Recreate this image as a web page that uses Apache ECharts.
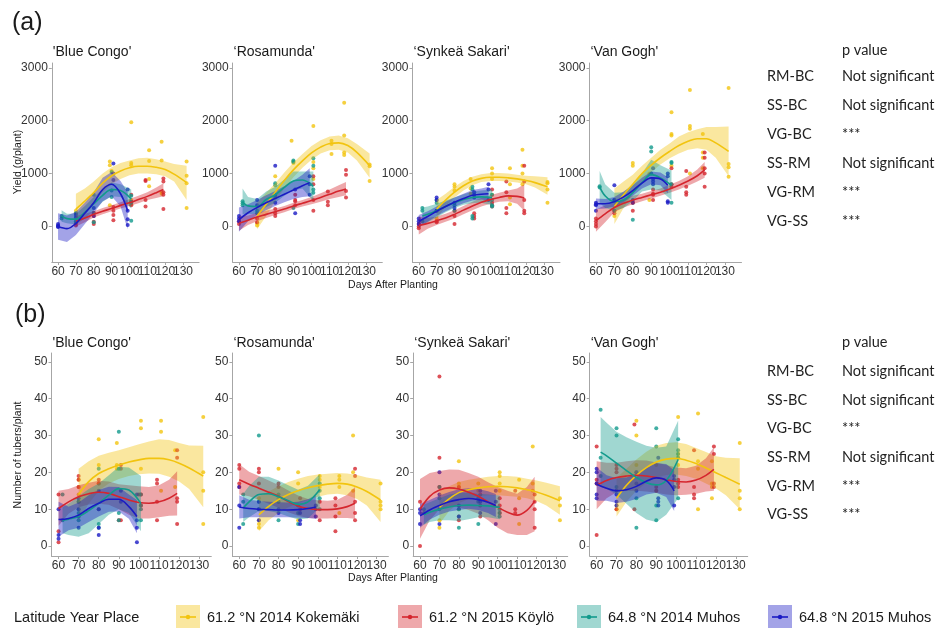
<!DOCTYPE html>
<html>
<head>
<meta charset="utf-8">
<script src="https://cdn.jsdelivr.net/npm/echarts@6/dist/echarts.min.js"></script>
<style>
  html, body { margin: 0; padding: 0; background: #ffffff; }
  #chart { width: 942px; height: 628px; }
</style>
</head>
<body>
<div id="chart"></div>
<script>
// ---- categories, ticks and labels ----
const groupNames = ['61.2 °N 2014 Kokemäki', '61.2 °N 2015 Köylö', '64.8 °N 2014 Muhos', '64.8 °N 2015 Muhos'];
const groupColors = ['#F2C40F', '#D5262E', '#129A8C', '#1A1AC4'];
const cultivars = ["'Blue Congo'", "‘Rosamunda'", "‘Synkeä Sakari'", "‘Van Gogh'"];
const dayTicks = [60, 70, 80, 90, 100, 110, 120, 130];
const yieldTicks = [0, 1000, 2000, 3000];
const tuberTicks = [0, 10, 20, 30, 40, 50];
const contrasts = ['RM-BC', 'SS-BC', 'VG-BC', 'SS-RM', 'VG-RM', 'VG-SS'];
const yieldSignif = ['Not significant', 'Not significant', '***', 'Not significant', '***', '***'];
const tuberSignif = ['Not significant', 'Not significant', '***', 'Not significant', '***', '***'];

// ---- yield (g/plant): observations [day, value], one list per site-year ----
const yieldPtsBC = [
  [[70,300],[70,240],[89,1230],[89,1160],[90,1050],[89,400],[101,1970],[101,1200],[101,1160],[101,500],[101,420],[111,1440],[111,1240],[111,900],[111,760],[118,1600],[118,1250],[118,650],[118,620],[132,1230],[132,960],[132,820],[132,350]],
  [[70,20],[70,60],[80,50],[80,90],[80,260],[80,200],[91,120],[91,220],[91,300],[91,370],[101,400],[101,470],[101,600],[109,880],[109,860],[109,500],[109,380],[119,910],[119,850],[119,650],[119,600],[119,330]],
  [[62,200],[62,150],[70,250],[70,100],[80,600],[80,250],[80,80],[90,1030],[90,680],[90,560],[101,580],[101,470],[101,110],[101,450]],
  [[60,50],[60,0],[60,20],[60,-10],[70,220],[70,170],[80,200],[80,350],[91,1190],[91,1000],[91,880],[99,700],[99,300],[99,140],[99,30]]
];
const yieldPtsRM = [
  [[70,60],[70,20],[80,950],[89,1620],[90,1230],[90,1200],[101,1900],[101,1220],[101,1100],[101,900],[111,1620],[111,1560],[111,1370],[118,2340],[118,1720],[118,1400],[118,1350],[132,1170],[132,1140],[132,860]],
  [[60,100],[60,50],[70,150],[70,80],[80,250],[80,200],[80,330],[91,400],[91,500],[91,480],[91,600],[101,950],[101,800],[101,300],[101,500],[109,660],[109,470],[109,400],[119,1070],[119,980],[119,670],[119,550]],
  [[62,480],[62,440],[62,400],[70,300],[70,250],[80,820],[80,780],[80,560],[90,1250],[90,1220],[90,350],[101,1290],[101,1150],[101,640],[101,700]],
  [[60,150],[60,200],[60,100],[70,500],[70,400],[80,1150],[80,600],[80,450],[91,250],[91,700],[99,950],[99,800],[99,600]]
];
const yieldPtsSS = [
  [[70,150],[80,800],[80,750],[80,680],[89,900],[89,720],[89,620],[101,1100],[101,1000],[101,900],[101,600],[111,1100],[111,800],[111,550],[111,420],[118,1450],[118,1150],[118,1000],[118,800],[132,840],[132,820],[132,700],[132,450]],
  [[60,0],[60,-30],[60,50],[70,100],[70,80],[80,50],[80,200],[80,300],[91,250],[91,200],[91,150],[101,450],[101,400],[101,380],[101,700],[109,850],[109,650],[109,350],[109,250],[119,1150],[119,850],[119,500],[119,300],[119,250]],
  [[62,350],[62,300],[62,100],[70,500],[70,450],[70,300],[80,400],[80,300],[90,750],[90,700],[90,200],[90,150],[101,600],[101,500],[101,400],[101,380]],
  [[60,150],[60,100],[60,50],[70,550],[70,500],[70,300],[80,450],[80,350],[91,650],[91,600],[91,550],[99,800],[99,700],[99,500]]
];
const yieldPtsVG = [
  [[70,200],[70,300],[80,1200],[80,1150],[80,450],[89,500],[89,1000],[101,2160],[101,1750],[101,1720],[101,1150],[111,2580],[111,1900],[111,1850],[111,1000],[118,1750],[118,1400],[118,1300],[118,1100],[132,2620],[132,1180],[132,1120],[132,940]],
  [[60,150],[60,100],[60,50],[60,0],[70,250],[70,300],[80,300],[80,450],[91,600],[91,500],[91,620],[91,700],[101,1100],[101,800],[101,750],[109,1050],[109,750],[109,650],[109,600],[119,1400],[119,1300],[119,1100],[119,1000],[119,750]],
  [[62,760],[62,740],[70,500],[70,300],[80,130],[90,1500],[90,1420],[90,1000],[101,1220],[101,1200],[101,450],[101,800]],
  [[60,450],[60,420],[60,400],[60,300],[70,780],[70,500],[80,500],[80,450],[91,1100],[91,900],[91,850],[91,800],[99,1000],[99,950],[99,480],[99,450]]
];

// ---- yield smoothers: [day, lower CI, fit, upper CI] ----
const yieldFitBC = [
  [[70,50,330,620],[75,250,480,720],[80,450,640,850],[85,650,820,1000],[90,800,960,1120],[95,900,1050,1200],[100,970,1110,1250],[105,1000,1140,1290],[110,1000,1140,1300],[115,990,1120,1270],[120,950,1080,1230],[125,850,990,1180],[132,500,830,1150]],
  [[70,0,100,200],[75,80,160,240],[80,170,230,290],[85,230,290,350],[90,290,340,400],[95,340,400,460],[100,390,450,520],[105,440,510,580],[110,500,570,650],[115,540,640,740],[119,570,700,820]],
  [[62,90,200,310],[65,60,150,240],[70,40,140,240],[75,150,270,390],[80,300,430,560],[85,470,590,710],[90,570,700,830],[95,560,680,800],[101,340,520,700]],
  [[60,-250,0,250],[65,-290,-40,210],[70,-160,60,280],[75,50,250,450],[80,250,450,650],[85,480,700,920],[90,570,800,1030],[95,380,620,860],[99,-50,300,650]]
];
const yieldFitRM = [
  [[70,-50,200,450],[75,200,420,640],[80,480,650,820],[85,720,870,1020],[90,930,1070,1210],[95,1110,1240,1370],[100,1260,1390,1520],[105,1380,1500,1630],[110,1440,1570,1700],[115,1450,1580,1720],[120,1400,1530,1670],[125,1250,1400,1560],[132,920,1150,1380]],
  [[60,-80,60,200],[65,30,120,210],[70,100,180,260],[75,160,230,300],[80,220,280,340],[85,270,330,390],[90,330,390,450],[95,380,440,500],[100,420,490,560],[105,470,550,630],[110,520,610,700],[115,560,670,780],[119,590,710,840]],
  [[62,230,470,720],[65,230,390,560],[70,240,380,520],[75,370,510,660],[80,450,600,750],[85,580,740,890],[90,680,860,1040],[95,720,880,1040],[101,480,760,1040]],
  [[60,-100,130,360],[65,100,260,420],[70,220,360,500],[75,310,450,590],[80,390,530,670],[85,460,610,760],[90,520,690,860],[95,560,770,980],[99,570,830,1100]]
];
const yieldFitSS = [
  [[70,150,330,500],[75,380,500,620],[80,550,650,750],[85,680,770,860],[90,780,860,940],[95,840,910,990],[100,860,930,1010],[105,860,930,1010],[110,850,920,1000],[115,830,900,980],[120,800,870,960],[125,740,830,950],[132,600,750,930]],
  [[60,-150,20,190],[65,-40,60,160],[70,30,110,190],[75,90,160,240],[80,150,230,310],[85,230,310,390],[90,310,390,470],[95,380,460,540],[100,430,510,590],[105,470,550,640],[110,480,580,680],[115,430,570,720],[119,300,540,800]],
  [[62,40,200,360],[65,80,230,380],[70,170,300,430],[75,270,380,490],[80,350,450,550],[85,410,510,610],[90,440,550,660],[95,450,560,680],[101,400,550,700]],
  [[60,-20,100,220],[65,90,190,290],[70,200,290,380],[75,290,380,470],[80,370,460,550],[85,440,530,620],[90,490,590,690],[95,510,610,720],[99,490,620,750]]
];
const yieldFitVG = [
  [[70,50,380,720],[75,350,600,850],[80,620,800,980],[85,850,1000,1150],[90,1030,1160,1300],[95,1170,1300,1450],[100,1290,1420,1570],[105,1380,1530,1700],[110,1450,1610,1780],[115,1480,1660,1840],[120,1450,1660,1880],[125,1300,1580,1880],[132,950,1420,1890]],
  [[60,-100,110,320],[65,80,240,400],[70,270,360,450],[75,360,440,520],[80,420,500,580],[85,480,550,620],[90,530,600,670],[95,580,650,720],[100,640,710,790],[105,700,780,860],[110,770,860,950],[115,850,960,1080],[119,920,1070,1220]],
  [[62,450,750,1050],[65,350,580,800],[70,300,470,640],[75,350,500,650],[80,480,640,800],[85,660,830,1000],[90,700,980,1260],[95,680,920,1160],[101,500,780,1060]],
  [[60,330,430,530],[65,340,430,520],[70,380,470,560],[75,460,560,660],[80,580,680,780],[85,720,820,920],[90,800,920,1040],[95,780,900,1020],[99,630,780,930]]
];

// ---- tubers per plant: observations [day, count] ----
const tuberPtsBC = [
  [[70,18],[70,16],[70,14],[70,10],[80,29],[80,22],[80,17],[89,28],[89,22],[89,21],[101,34],[101,32],[101,21],[111,34],[111,31],[111,15],[118,26],[118,16],[132,35],[132,20],[132,15],[132,6]],
  [[60,14],[60,4],[60,1],[70,19],[70,18],[70,16],[70,12],[80,18],[80,17],[80,10],[91,22],[91,21],[91,7],[90,7],[101,14],[100,14],[101,11],[109,18],[109,17],[109,12],[109,7],[119,26],[119,24],[119,13],[119,12],[119,6]],
  [[62,14],[62,7],[70,12],[70,9],[70,7],[80,21],[80,6],[80,5],[90,31],[90,21],[90,9],[90,7],[101,14],[101,11],[101,10],[101,7]],
  [[60,10],[60,3],[60,2],[70,13],[70,10],[70,8],[70,5],[80,15],[80,10],[80,5],[80,3],[91,15],[91,12],[99,14],[99,7],[99,5],[99,1]]
];
const tuberPtsRM = [
  [[70,7],[70,6],[70,5],[70,13],[80,21],[80,13],[80,12],[90,20],[90,17],[90,7],[101,19],[101,18],[101,16],[111,19],[111,18],[111,16],[111,9],[118,30],[118,20],[118,15],[132,17],[132,12],[132,11],[132,10]],
  [[60,22],[60,21],[60,17],[60,16],[70,21],[70,20],[70,17],[80,17],[80,16],[91,13],[91,10],[101,7],[101,12],[109,13],[109,11],[109,8],[109,4],[119,21],[119,19],[119,12],[119,9],[119,7]],
  [[62,14],[62,12],[62,6],[70,30],[70,12],[70,10],[80,14],[80,12],[80,7],[90,11],[90,9],[90,6],[101,17],[101,15],[101,13],[101,10]],
  [[60,16],[60,11],[60,5],[70,12],[70,10],[70,7],[80,10],[80,9],[91,9],[91,7],[91,6],[99,11],[99,10],[99,8]]
];
const tuberPtsSS = [
  [[70,7],[70,5],[80,23],[80,17],[80,16],[90,17],[90,15],[101,20],[101,19],[101,17],[101,15],[111,18],[111,13],[111,6],[118,27],[118,17],[118,15],[132,13],[132,11],[132,7]],
  [[60,12],[60,0],[70,46],[70,24],[70,16],[80,10],[80,8],[80,7],[80,16],[91,14],[91,11],[91,8],[101,13],[101,11],[101,9],[109,15],[109,10],[109,9],[119,14],[119,12],[119,10],[119,5]],
  [[62,10],[62,9],[70,16],[70,13],[70,10],[80,10],[80,5],[90,13],[90,12],[90,6],[101,10],[101,9],[101,8]],
  [[60,10],[60,9],[60,6],[70,20],[70,14],[70,6],[80,11],[80,8],[91,15],[91,12],[91,9],[99,15],[99,12],[99,6]]
];
const tuberPtsVG = [
  [[70,11],[70,10],[80,34],[80,30],[80,22],[90,22],[90,15],[101,35],[101,25],[101,24],[101,22],[111,36],[111,23],[111,21],[111,10],[118,23],[118,17],[118,16],[118,13],[132,28],[132,15],[132,13],[132,10]],
  [[60,27],[60,18],[60,17],[60,3],[70,22],[70,21],[70,20],[70,10],[79,33],[79,10],[90,16],[90,15],[101,18],[101,17],[101,16],[109,26],[109,16],[109,14],[109,13],[119,27],[119,25],[119,17],[119,16]],
  [[62,37],[62,24],[62,19],[70,32],[70,30],[70,16],[80,5],[80,13],[80,20],[90,32],[90,27],[90,11],[90,7],[101,29],[101,26],[101,25],[101,24],[101,13]],
  [[60,21],[60,20],[60,17],[60,14],[60,13],[70,15],[70,14],[70,12],[70,11],[80,20],[80,17],[80,15],[91,24],[91,13],[91,12],[91,11],[99,19],[99,18],[99,16],[99,11]]
];

// ---- tuber smoothers: [day, lower CI, fit, upper CI] ----
const tuberFitBC = [
  [[70,7,14,21],[75,11.5,17.5,23],[80,15,19.7,24.5],[85,17,21,25.3],[90,18.2,22,26],[95,19,22.8,26.8],[100,19.5,23.4,27.6],[105,19.7,23.8,28.4],[110,19.6,23.8,29],[115,18.8,23.4,28.8],[120,17.5,22.5,28],[125,15.5,21.2,27.3],[132,10.5,19,27.2]],
  [[60,5.5,10.2,15],[65,8.8,12,15.5],[70,10.5,13.4,16.5],[75,11.3,14.2,17.2],[80,11.5,14.6,17.7],[85,11.2,14.3,17.5],[90,10,13.4,16.8],[95,8.5,12.5,16.5],[100,7.5,11.8,16.2],[105,7.5,11.6,16],[110,7.8,12,16.5],[115,8.2,13,18],[119,8.3,14.3,20.3]],
  [[62,3.5,7,10.5],[65,3,7.3,11.5],[70,2.5,8,13.5],[75,3.5,9.6,15.5],[80,6,11.6,17],[85,8.5,13.8,19.2],[90,10,15.6,21.5],[95,9,15.2,21.3],[101,4,11.5,19]],
  [[60,2.5,7.2,12],[65,4.3,7.5,10.7],[70,5,8.4,11.8],[75,6.5,10.2,13.8],[80,8,11.6,15.2],[85,9.3,12.7,16.1],[90,9.4,12.7,16],[95,7.4,10.7,14],[99,3.5,8,12.5]]
];
const tuberFitRM = [
  [[70,4,8.5,13.5],[75,7,10.8,14.8],[80,9,12.6,16.2],[85,10.5,14,17.4],[90,11.6,15,18.3],[95,12.6,15.8,19],[100,13.4,16.4,19.4],[105,14,16.8,19.6],[110,14.2,17,19.8],[115,13.8,16.8,19.7],[120,12.8,16,19.3],[125,11,14.8,18.6],[132,6.5,12.5,18]],
  [[60,14,18,22.2],[65,13.5,16.8,20.2],[70,12.5,15.7,19],[75,11.5,14.6,17.8],[80,10.4,13.5,16.6],[85,9.2,12.1,15.1],[90,8.2,10.9,13.7],[95,7.6,10.2,12.8],[100,7.5,9.9,12.4],[105,7.5,9.9,12.3],[110,7.6,10.1,12.6],[115,7.6,10.7,13.9],[119,7.4,11.6,16]],
  [[62,6.5,10.3,14.2],[65,7.8,12,16.3],[70,9.5,14,18.8],[75,9.5,14.2,18.8],[80,9,13.4,17.8],[85,8,12.3,16.5],[90,7.2,11.3,15.3],[95,7.5,12,16.4],[101,10.5,15.3,19.5]],
  [[60,7.5,10.6,13.8],[65,7.8,10.2,12.6],[70,7.8,10,12.2],[75,7.8,9.9,12],[80,7.8,9.8,11.9],[85,7.8,9.8,11.8],[90,7.7,9.9,12],[95,7.6,10.2,12.7],[99,7.4,10.6,13.8]]
];
const tuberFitSS = [
  [[70,6,10.5,15],[75,9.5,12.8,16.2],[80,11.6,14.5,17.4],[85,12.8,15.3,18],[90,13.5,15.8,18.4],[95,13.8,16.1,18.8],[100,13.8,16.2,19],[105,13.6,16.1,19],[110,13.4,15.8,18.8],[115,13,15.3,18.3],[120,12.2,14.7,17.8],[125,11,13.8,17.2],[132,8.5,12.3,16.2]],
  [[60,2,10,18.2],[65,7,13.5,19.8],[70,10,15.2,20.4],[75,10.8,15.8,20.8],[80,10.5,15.5,20.7],[85,9.8,14.6,19.8],[90,8.8,13.5,18.8],[95,7,12,17.3],[100,5,10.5,16],[105,3.5,9.2,15],[110,3,8.4,14.2],[115,3,9.7,16],[119,4,12.2,18.8]],
  [[62,5.8,8.5,11.2],[65,6.5,9.2,11.9],[70,7,10,13],[75,7,10.6,14],[80,6.8,11,14.5],[85,7.3,11.1,14.5],[90,7.8,11,14.2],[95,7.8,10.9,14],[101,7.3,10.5,13.7]],
  [[60,5,8.2,11.4],[65,7.2,9.8,12.5],[70,8.5,11,13.7],[75,9.4,12,14.7],[80,9.8,12.6,15.4],[85,10.1,12.9,15.7],[90,9.8,12.6,15.5],[95,9,11.9,14.9],[99,7.9,11,14.1]]
];
const tuberFitVG = [
  [[70,8,13,18.5],[75,12,16.5,21],[80,15,19.2,23.5],[85,17.2,21.3,25.6],[90,18.6,22.8,27.2],[95,19.3,23.6,28],[100,19.4,23.8,28.2],[105,19,23.3,27.7],[110,18.3,22.4,26.6],[115,17,21.2,25.5],[120,15.6,19.9,24.4],[125,13.8,18.6,24],[132,10,16.8,23.8]],
  [[60,10,16.5,23],[65,13,17.8,22.6],[70,14.6,18.6,22.6],[75,15,19,23],[80,15,19.2,23.3],[85,14.8,19,23.2],[90,14.5,18.6,22.7],[95,14,18,22],[100,13.8,17.5,21.3],[105,13.9,17.4,21.1],[110,14.2,17.9,21.8],[115,14.8,19.2,23.8],[119,15,20.8,26.8]],
  [[62,16,25.5,35],[65,15.5,24.5,33.5],[70,14,22.5,31],[75,11.5,20.5,29.5],[80,9,18.6,28.3],[85,7.2,17.2,27.2],[90,6.5,16.6,26.7],[95,8.5,17.8,27],[101,13,23.5,34]],
  [[60,12.3,16.8,21.3],[65,12.3,15.7,19.2],[70,11.7,15,18.4],[75,12,15.3,18.6],[80,12.8,16.2,19.6],[85,14,17.6,21.2],[90,14.5,18.5,22.5],[95,13.3,17.8,22.3],[99,9.5,15,20.5]]
];

// ---- layout of the two panel rows ----
const FONT = "'Liberation Sans', Arial, Helvetica, sans-serif";
const panelRows = [
  {
    pts: [yieldPtsBC, yieldPtsRM, yieldPtsSS, yieldPtsVG],
    fits: [yieldFitBC, yieldFitRM, yieldFitSS, yieldFitVG],
    ticks: yieldTicks, yMin: -670, yMax: 3090, xMin: 56.5, xMax: 139,
    top: 63, height: 199,
    lefts: [51.8, 232.6, 412.5, 589.5], widths: [147.3, 149.7, 147.5, 152]
  },
  {
    pts: [tuberPtsBC, tuberPtsRM, tuberPtsSS, tuberPtsVG],
    fits: [tuberFitBC, tuberFitRM, tuberFitSS, tuberFitVG],
    ticks: tuberTicks, yMin: -2.7, yMax: 52.4, xMin: 56.5, xMax: 136,
    top: 353, height: 203,
    lefts: [51.5, 232.4, 413.2, 589.7], widths: [159.8, 156, 154.5, 158]
  }
];

// day labels are split over two coincident axes so that the tightly
// packed labels (100110120130) are all kept
const dayLabelsA = dayTicks.filter(function (d, i) { return i % 2 === 0; });
const dayLabelsB = dayTicks.filter(function (d, i) { return i % 2 === 1; });

function rgba(hex, a) {
  const n = parseInt(hex.slice(1), 16);
  return 'rgba(' + ((n >> 16) & 255) + ',' + ((n >> 8) & 255) + ',' + (n & 255) + ',' + a + ')';
}
function plainNumber(v) { return String(v); }

const grids = [], xAxes = [], yAxes = [], series = [];
const axisGray = '#a6a6a6';
const labelBase = { fontSize: 12, color: '#333', margin: 4, fontFamily: FONT, hideOverlap: false, formatter: plainNumber };

panelRows.forEach(function (row) {
  for (let p = 0; p < 4; p++) {
    const gi = grids.length;
    grids.push({ left: row.lefts[p], top: row.top, width: row.widths[p], height: row.height, containLabel: false, outerBoundsMode: 'none' });
    const xi = xAxes.length;
    xAxes.push({
      gridIndex: gi, type: 'value', position: 'bottom', min: row.xMin, max: row.xMax,
      axisLine: { show: true, onZero: false, lineStyle: { color: axisGray, width: 1 } },
      axisTick: { show: true, length: 3, customValues: dayTicks, lineStyle: { color: axisGray } },
      axisLabel: Object.assign({ customValues: dayLabelsA }, labelBase),
      splitLine: { show: false }
    });
    xAxes.push({
      gridIndex: gi, type: 'value', position: 'bottom', min: row.xMin, max: row.xMax,
      axisLine: { show: false, onZero: false },
      axisTick: { show: false },
      axisLabel: Object.assign({ customValues: dayLabelsB }, labelBase),
      splitLine: { show: false }
    });
    const yi = yAxes.length;
    yAxes.push({
      gridIndex: gi, type: 'value', min: row.yMin, max: row.yMax,
      axisLine: { show: true, onZero: false, lineStyle: { color: axisGray, width: 1 } },
      axisTick: { show: true, length: 3, customValues: row.ticks, lineStyle: { color: axisGray } },
      axisLabel: Object.assign({ customValues: row.ticks, showMinLabel: true, showMaxLabel: true }, labelBase),
      splitLine: { show: false }
    });
    // observations first, then confidence ribbons and fitted curves on top
    for (let g = 0; g < 4; g++) {
      series.push({
        type: 'scatter', xAxisIndex: xi, yAxisIndex: yi, data: row.pts[p][g],
        symbolSize: 4, itemStyle: { color: groupColors[g] }, z: 1, silent: true
      });
    }
    for (let g = 0; g < 4; g++) {
      const rows = row.fits[p][g];
      series.push({
        type: 'custom', xAxisIndex: xi, yAxisIndex: yi, data: rows, z: 2, silent: true, clip: true,
        encode: { x: 0, y: [1, 3] },
        renderItem: function (params, api) {
          if (params.dataIndex !== 0) return null;
          const upper = rows.map(function (r) { return api.coord([r[0], r[3]]); });
          const lower = rows.map(function (r) { return api.coord([r[0], r[1]]); }).reverse();
          return { type: 'polygon', shape: { points: upper.concat(lower) }, style: { fill: rgba(groupColors[g], 0.4) } };
        }
      });
      series.push({
        type: 'line', xAxisIndex: xi, yAxisIndex: yi, data: rows.map(function (r) { return [r[0], r[2]]; }),
        smooth: 0.35, showSymbol: false, z: 3, silent: true,
        lineStyle: { color: groupColors[g], width: 1.6 }
      });
    }
  }
});

// ---- text: panel letters, cultivar titles, axis titles, contrasts table, legend ----
const graphics = [];
function txt(x, y, s, size, opts) {
  const o = Object.assign({ align: 'left', vAlign: 'middle', family: FONT, color: '#1a1a1a', rot: 0 }, opts || {});
  graphics.push({
    type: 'text', x: x, y: y, rotation: o.rot, silent: true,
    style: { text: s, fontSize: size, fontFamily: o.family, fill: o.color, align: o.align, verticalAlign: o.vAlign }
  });
}
txt(12, 23, '(a)', 25);
txt(15, 315, '(b)', 25);
const titleY = [52, 343];
panelRows.forEach(function (row, r) {
  for (let p = 0; p < 4; p++) txt(row.lefts[p] + 1, titleY[r], cultivars[p], 14);
});
txt(18, 162, 'Yield (g/plant)', 10.5, { align: 'center', rot: Math.PI / 2 });
txt(18, 455, 'Number of tubers/plant', 10.5, { align: 'center', rot: Math.PI / 2 });
txt(393, 285, 'Days After Planting', 10.5, { align: 'center' });
txt(393, 578, 'Days After Planting', 10.5, { align: 'center' });

const TABLE_FONT = "Lato, 'Open Sans', sans-serif";
const tableBlocks = [
  { head: 50, rows: [76, 105, 134, 163, 192, 221], values: yieldSignif },
  { head: 342, rows: [371, 400, 428, 457, 486, 514], values: tuberSignif }
];
tableBlocks.forEach(function (b) {
  txt(842, b.head, 'p value', 14.5, { family: TABLE_FONT, color: '#222' });
  contrasts.forEach(function (c, i) {
    txt(767, b.rows[i], c, 14.5, { family: TABLE_FONT, color: '#222' });
    txt(842, b.rows[i], b.values[i], 14.5, { family: TABLE_FONT, color: '#222' });
  });
});

txt(14, 618, 'Latitude Year Place', 14.5);
const legendX = [176, 398, 577, 768];
groupNames.forEach(function (name, g) {
  const x = legendX[g];
  graphics.push({ type: 'rect', silent: true, shape: { x: x, y: 605, width: 24, height: 24 }, style: { fill: rgba(groupColors[g], 0.4) } });
  graphics.push({ type: 'line', silent: true, shape: { x1: x + 4, y1: 617, x2: x + 20, y2: 617 }, style: { stroke: groupColors[g], lineWidth: 1.6 } });
  graphics.push({ type: 'circle', silent: true, shape: { cx: x + 12, cy: 617, r: 2.2 }, style: { fill: groupColors[g] } });
  txt(x + 31, 618, name, 14.5);
});

const chart = echarts.init(document.getElementById('chart'), null, { renderer: 'canvas' });
chart.setOption({
  animation: false,
  backgroundColor: '#ffffff',
  textStyle: { fontFamily: FONT },
  grid: grids, xAxis: xAxes, yAxis: yAxes, series: series,
  graphic: { elements: graphics }
});
</script>
</body>
</html>
